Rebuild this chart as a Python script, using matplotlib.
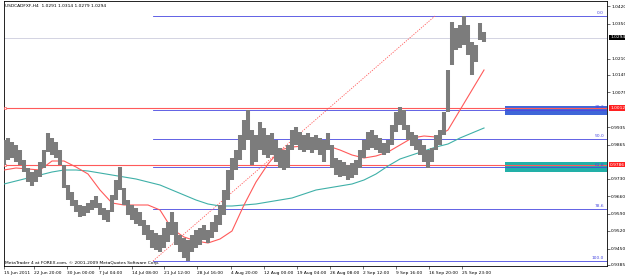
import numpy as np
import matplotlib.pyplot as plt
from matplotlib.patches import Rectangle

symbol_title = "USDCADFXF,H4  1.0291 1.0314 1.0279 1.0294"
copyright_text = "MetaTrader 4 at FOREX.com, \u00a9 2001-2009 MetaQuotes Software Corp."

# price bars, one reading every 4 bars
bar_step = 4
highs = [0.9884, 0.9892, 0.9876, 0.9864, 0.9844, 0.9804, 0.9772, 0.9756, 0.9764, 0.9796,
         0.9844, 0.9912, 0.9892, 0.9876, 0.9844, 0.9784, 0.9704, 0.9676, 0.9644, 0.9624,
         0.9620, 0.9632, 0.9644, 0.9660, 0.9632, 0.9612, 0.9604, 0.9664, 0.9724, 0.9776,
         0.9692, 0.9644, 0.9624, 0.9612, 0.9596, 0.9564, 0.9544, 0.9524, 0.9512, 0.9504,
         0.9532, 0.9556, 0.9596, 0.9556, 0.9504, 0.9492, 0.9484, 0.9504, 0.9524, 0.9532,
         0.9544, 0.9524, 0.9556, 0.9584, 0.9624, 0.9684, 0.9764, 0.9812, 0.9844, 0.9904,
         0.9964, 1.0004, 0.9924, 0.9904, 0.9956, 0.9932, 0.9904, 0.9912, 0.9884, 0.9852,
         0.9844, 0.9864, 0.9924, 0.9936, 0.9916, 0.9904, 0.9912, 0.9896, 0.9904, 0.9892,
         0.9884, 0.9912, 0.9864, 0.9812, 0.9804, 0.9796, 0.9784, 0.9792, 0.9804, 0.9844,
         0.9884, 0.9916, 0.9924, 0.9904, 0.9892, 0.9872, 0.9884, 0.9944, 0.9996, 1.0016,
         1.0004, 0.9944, 0.9916, 0.9904, 0.9884, 0.9864, 0.9844, 0.9852, 0.9904, 0.9924,
         0.9996, 1.0164, 1.0356, 1.0332, 1.0344, 1.0380, 1.0344, 1.0276, 1.0264, 1.0352,
         1.0316]
lows = [0.9784, 0.9804, 0.9812, 0.9796, 0.9784, 0.9756, 0.9716, 0.9700, 0.9716, 0.9736,
        0.9772, 0.9836, 0.9824, 0.9812, 0.9784, 0.9692, 0.9644, 0.9620, 0.9596, 0.9576,
        0.9580, 0.9592, 0.9604, 0.9612, 0.9584, 0.9564, 0.9556, 0.9596, 0.9644, 0.9684,
        0.9624, 0.9584, 0.9564, 0.9548, 0.9540, 0.9504, 0.9484, 0.9452, 0.9444, 0.9436,
        0.9452, 0.9476, 0.9504, 0.9464, 0.9436, 0.9412, 0.9400, 0.9436, 0.9452, 0.9464,
        0.9484, 0.9472, 0.9492, 0.9516, 0.9544, 0.9584, 0.9644, 0.9724, 0.9764, 0.9804,
        0.9844, 0.9884, 0.9784, 0.9796, 0.9844, 0.9824, 0.9812, 0.9824, 0.9796, 0.9772,
        0.9764, 0.9772, 0.9844, 0.9864, 0.9844, 0.9836, 0.9844, 0.9832, 0.9844, 0.9824,
        0.9796, 0.9844, 0.9772, 0.9744, 0.9736, 0.9740, 0.9724, 0.9732, 0.9744, 0.9772,
        0.9812, 0.9844, 0.9852, 0.9844, 0.9832, 0.9824, 0.9832, 0.9864, 0.9916, 0.9944,
        0.9924, 0.9884, 0.9860, 0.9844, 0.9824, 0.9796, 0.9772, 0.9796, 0.9844, 0.9864,
        0.9904, 0.9996, 1.0184, 1.0244, 1.0252, 1.0264, 1.0224, 1.0144, 1.0196, 1.0284,
        1.0276]

# moving averages, one reading every 12 bars
ma_step = 12
ma_fast = [0.9764, 0.9772, 0.9768, 0.9764, 0.9800, 0.9800, 0.9776, 0.9748, 0.9684, 0.9632,
           0.9624, 0.9624, 0.9624, 0.9604, 0.9528, 0.9496, 0.9480, 0.9472, 0.9488, 0.9520,
           0.9624, 0.9716, 0.9788, 0.9844, 0.9856, 0.9860, 0.9860, 0.9860, 0.9844, 0.9824,
           0.9812, 0.9820, 0.9836, 0.9864, 0.9892, 0.9900, 0.9896, 0.9924, 1.0004, 1.0084,
           1.0164]
ma_slow = [0.9708, 0.9720, 0.9732, 0.9744, 0.9756, 0.9764, 0.9764, 0.9760, 0.9752, 0.9744,
           0.9736, 0.9728, 0.9716, 0.9704, 0.9684, 0.9664, 0.9644, 0.9628, 0.9620, 0.9620,
           0.9624, 0.9628, 0.9636, 0.9644, 0.9652, 0.9668, 0.9684, 0.9692, 0.9700, 0.9708,
           0.9724, 0.9748, 0.9780, 0.9808, 0.9824, 0.9840, 0.9856, 0.9868, 0.9892, 0.9912,
           0.9932]

last_price = 1.0294
sr_levels = [1.0012, 0.9786]
zone_bottoms = [0.9984, 0.9756]
zone_tops = [1.0020, 0.9796]
zone_start_bar = 501

fib_high = 1.0380
fib_low = 0.9400
fib_low_bar = 149
fib_high_bar = 431
fib_levels = [0.0, 38.2, 50.0, 61.8, 78.6, 100.0]

# labels hidden behind the price boxes are left out
price_ticks = [1.0420, 1.0350, 1.0210, 1.0145, 1.0075, 0.9935,
               0.9865, 0.9730, 0.9660, 0.9590, 0.9520, 0.9450, 0.9385]
date_bars = [0, 30, 63, 95, 128, 160, 193, 227, 260, 293, 326, 359, 392, 425, 458]
date_labels = ["15 Jun 2011", "22 Jun 20:00", "30 Jun 00:00", "7 Jul 04:00", "14 Jul 08:00",
               "21 Jul 12:00", "28 Jul 16:00", "4 Aug 20:00", "12 Aug 00:00", "19 Aug 04:00",
               "26 Aug 08:00", "2 Sep 12:00", "9 Sep 16:00", "16 Sep 20:00", "25 Sep 23:00"]

fs = 3.2
fib_color = "#4848e0"
red = "#ff5a5a"

fig = plt.figure(figsize=(6.25, 2.76), dpi=100)
ax = fig.add_axes([3.5 / 625, 10 / 276, 603.5 / 625, 265 / 276])
ax.set_xlim(-0.5, 603)
ax.set_ylim(0.9380, 1.0440)

# zones
for bottom, top, col in zip(zone_bottoms, zone_tops, ["#3f66d8", "#22b0a8"]):
    ax.add_patch(Rectangle((zone_start_bar, bottom), 603 - zone_start_bar, top - bottom,
                           facecolor=col, edgecolor="none", zorder=1))

# current price line
ax.axhline(last_price, color="#ccccdd", lw=0.6, zorder=1)

# support / resistance lines
for lvl in sr_levels:
    ax.axhline(lvl, color=red, lw=0.8, zorder=2)
    ax.plot([1], [lvl], marker="s", ms=1.6, mfc="white", mec=red, mew=0.5, zorder=3)

# fibonacci
fib_range = fib_high - fib_low
for lvl in fib_levels:
    p = fib_high - lvl / 100 * fib_range
    ax.plot([fib_low_bar, 603], [p, p], color=fib_color, lw=0.6, zorder=2)
    ax.text(600, p + 0.0003, f"{lvl:.1f}", color=fib_color, fontsize=fs,
            ha="right", va="bottom", zorder=4)
ax.plot([fib_low_bar, fib_high_bar], [fib_low, fib_high], color=red, lw=0.6,
        linestyle=(0, (1.5, 1.5)), zorder=2)

# moving averages
ma_x = np.arange(len(ma_fast)) * ma_step
ax.plot(ma_x, ma_slow, color="#3fb0a8", lw=0.8, zorder=3)
ax.plot(ma_x, ma_fast, color=red, lw=0.8, zorder=3)

# price bars
bar_x = np.arange(len(highs)) * bar_step
ax.vlines(bar_x, lows, highs, color="#7c7c7c", lw=2.9, zorder=4)

# axes styling
for s in ax.spines.values():
    s.set_linewidth(0.6)
ax.yaxis.tick_right()
ax.set_yticks(price_ticks, [f"{t:.4f}" for t in price_ticks], fontsize=fs)
ax.set_xticks(date_bars, date_labels, fontsize=fs, ha="left")
ax.tick_params(axis="y", length=2, width=0.4, pad=1)
ax.tick_params(axis="x", length=2, width=0.4, pad=1.5)

# price label boxes
ytrans = ax.get_yaxis_transform()
ax.text(1.005, last_price, f"{last_price:.4f}", transform=ytrans, color="white", fontsize=fs,
        va="center", ha="left", clip_on=False, zorder=6,
        bbox=dict(facecolor="black", edgecolor="none", pad=0.4))
for lvl in sr_levels:
    ax.text(1.005, lvl, f"{lvl:.4f}", transform=ytrans, color="white", fontsize=fs,
            va="center", ha="left", clip_on=False, zorder=6,
            bbox=dict(facecolor="#ff2020", edgecolor="none", pad=0.4))

ax.text(0.003, 0.99, symbol_title, transform=ax.transAxes, fontsize=fs, va="top", ha="left")
ax.text(0.002, 0.012, copyright_text, transform=ax.transAxes, fontsize=fs, va="center", ha="left")

fig.savefig("out.png", dpi=100)
